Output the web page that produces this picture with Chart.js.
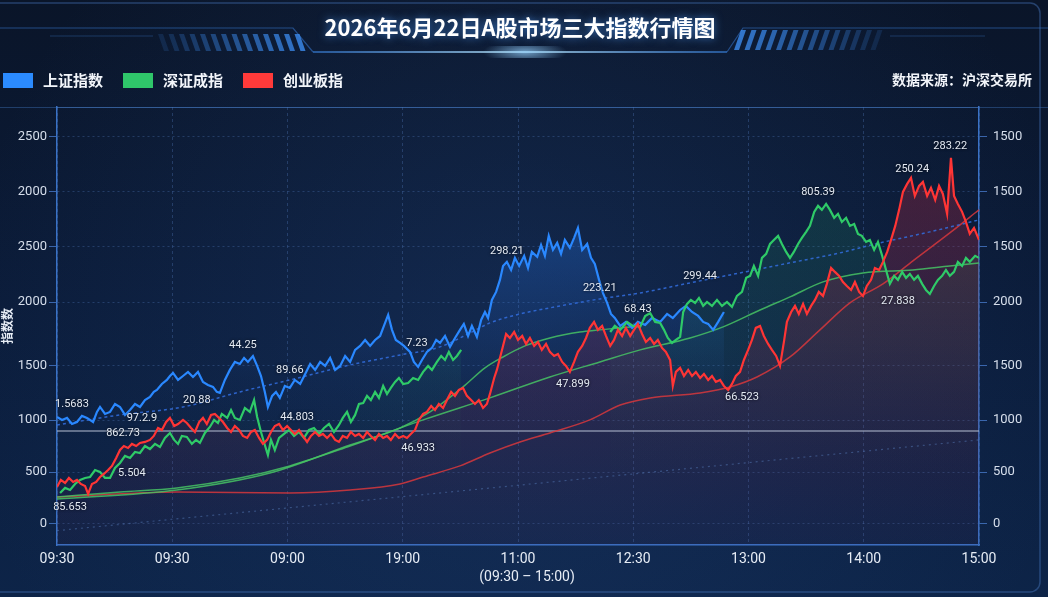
<!DOCTYPE html>
<html>
<head>
<meta charset="UTF-8">
<title>2026年6月22日A股市场三大指数行情图</title>
<script src="https://cdn.jsdelivr.net/npm/chart.js"></script>
<style>
  html, body { margin: 0; padding: 0; background: #0b1a33; }
  #wrap { position: relative; width: 1048px; height: 597px; }
</style>
</head>
<body>
<div id="wrap"><canvas id="chart" width="1048" height="597"></canvas></div>
<script>
// x = trading minutes from the open (0..240), y = index level
const timeLabels = ['09:30', '09:30', '09:00', '19:00', '11:00', '12:30', '13:00', '14:00', '15:00'];
const tickValues = [0, 470, 940, 1430, 2005, 2505, 3005, 3500];
const leftTickLabels = ['0', '500', '1000', '1500', '2000', '2500', '2000', '2500'];
const rightTickLabels = ['0', '500', '1000', '1500', '2000', '1500', '1500', '1500'];

const shanghai = [[0,968],[1.3,941],[2.6,959],[3.9,904],[5.2,922],[6.5,977],[7.8,959],[9.4,922],[10.4,1013],[11.2,1058],[12.5,995],[13.8,1013],[15.1,1085],[16.4,1058],[17.7,986],[19,1031],[20.3,1085],[21.6,1058],[22.9,1121],[24.2,1149],[25.2,1194],[26,1212],[27.3,1266],[28.6,1302],[29.4,1338],[30.2,1366],[31.5,1302],[32.8,1338],[34.1,1375],[35.4,1329],[36.7,1375],[38,1284],[39.3,1257],[40.6,1239],[41.6,1194],[42.4,1185],[43.7,1302],[45,1393],[46.3,1465],[47.6,1447],[48.7,1501],[49.7,1465],[51,1519],[52.1,1429],[53.1,1338],[54.1,1194],[54.9,1058],[56,1158],[57,1194],[58,1140],[59.3,1248],[60.6,1230],[61.9,1302],[63.3,1266],[64.6,1357],[65.9,1447],[67.2,1393],[68.5,1465],[69.8,1429],[71.1,1501],[72.4,1393],[73.7,1429],[75,1519],[76.3,1465],[77.6,1574],[78.9,1610],[80.2,1664],[81.5,1610],[82.8,1664],[84.1,1700],[85.1,1791],[86.2,1890],[87.2,1755],[88.2,1664],[89.3,1637],[90.3,1610],[91.9,1556],[92.9,1465],[94,1420],[95,1483],[96.3,1556],[97.6,1592],[98.7,1664],[99.7,1637],[101,1700],[102.3,1601],[103.6,1682],[104.9,1755],[105.9,1809],[107,1700],[108,1791],[109.3,1691],[110.4,1845],[111.4,1917],[112.2,1863],[113.2,2026],[114.3,2098],[115.3,2207],[116.1,2333],[117.1,2370],[118.2,2297],[119.2,2406],[120.3,2333],[121.6,2424],[122.6,2315],[123.6,2460],[125,2415],[126,2523],[127,2424],[128,2605],[129.1,2478],[130.2,2541],[131.2,2442],[132.2,2568],[133.5,2496],[134.6,2587],[135.6,2677],[136.7,2478],[138,2532],[139,2406],[140,2351],[141.1,2207],[142.1,2089],[143.2,1999],[144.2,1899],[145.2,1863],[146.6,1791],[148.1,1827],[149.7,1773],[151.2,1827],[153.1,1800],[154.9,1863],[157,1827],[158.8,1899],[160.3,1863],[162.2,1935],[163.7,1972],[165.3,1917],[166.9,1881],[168.2,1827],[169.5,1809],[170.8,1755],[172.1,1827],[173.6,1917]];

const shenzhen = [[0.8,280],[2.1,326],[3.4,307],[4.7,362],[6,398],[7.3,416],[8.6,425],[9.9,488],[11.2,470],[12.5,416],[13.8,416],[15.1,506],[16.4,552],[17.7,615],[19,597],[20.3,651],[21.6,642],[22.9,705],[24.2,678],[25.5,724],[26.8,696],[28.1,778],[29.4,823],[30.5,760],[31.5,724],[32.5,796],[33.8,787],[35.1,724],[36.2,760],[37.2,733],[38.5,823],[39.8,877],[40.9,941],[41.9,913],[42.9,995],[44.3,959],[45.3,1031],[46.3,959],[47.6,941],[48.9,1049],[50.2,1013],[51.3,1121],[52.1,968],[53.1,832],[54.1,714],[54.9,624],[55.7,760],[56.7,669],[57.8,778],[59.1,814],[60.4,850],[61.7,796],[63,832],[64.3,778],[65.6,850],[66.9,868],[68.2,814],[69.5,868],[70.8,904],[72.1,832],[73.4,895],[74.4,959],[75.5,1013],[76.5,922],[77.6,986],[78.6,1085],[79.7,1094],[80.7,1158],[81.7,1121],[82.8,1194],[83.8,1140],[84.9,1248],[85.9,1176],[86.9,1230],[88,1284],[89,1320],[90.1,1266],[91.4,1275],[92.7,1320],[94,1302],[95.3,1375],[96.6,1429],[97.6,1393],[98.9,1465],[100,1519],[101,1483],[102,1556],[103.1,1483],[104.1,1519],[105.2,1574],[124,null],[144,1736],[145.2,1791],[146.6,1755],[148.4,1827],[149.9,1791],[151.8,1782],[153.1,1881],[154.4,1908],[155.7,1827],[157,1818],[158,1755],[159,1682],[160.1,1637],[161.1,1664],[162.2,1691],[163,1917],[164,1990],[165,2026],[166.1,1999],[167.1,2044],[168.2,1972],[169.2,2008],[170.5,1972],[171.8,2026],[173.1,1972],[174.4,2008],[175.7,1963],[177,2062],[178.3,2098],[179.4,2225],[180.4,2243],[181.4,2333],[182.5,2243],[183.5,2406],[184.6,2442],[185.6,2532],[186.6,2568],[187.7,2605],[188.7,2532],[189.8,2460],[190.8,2406],[191.8,2460],[192.9,2532],[193.9,2587],[195,2641],[196,2695],[197.1,2822],[198.1,2876],[199.1,2840],[200.2,2894],[201.2,2840],[202.3,2768],[203.3,2804],[204.3,2731],[205.4,2768],[206.4,2695],[207.5,2713],[208.5,2623],[209.5,2605],[210.6,2550],[211.6,2568],[212.7,2478],[213.7,2550],[214.8,2424],[215.8,2297],[216.8,2171],[217.9,2243],[218.9,2207],[220,2279],[221,2225],[222,2261],[223.1,2207],[224.1,2243],[225.2,2171],[226.2,2116],[227.2,2080],[228.3,2152],[229.3,2207],[230.4,2243],[231.4,2297],[232.4,2243],[233.5,2279],[234.5,2370],[235.6,2333],[236.6,2406],[237.6,2370],[239,2424],[240,2406]];

const chinext = [[0,335],[1,398],[2.1,371],[3.1,416],[4.2,380],[5.2,398],[6.2,362],[7.3,344],[8.1,271],[9.1,362],[10.2,380],[11.2,425],[12.2,452],[13.3,488],[14.3,525],[15.4,597],[16.4,669],[17.4,705],[18.5,687],[19.5,724],[20.6,705],[21.6,733],[22.9,742],[24.2,760],[25.2,796],[26.3,868],[27.3,850],[28.4,922],[29.4,959],[30.5,886],[31.5,904],[32.8,941],[33.8,913],[34.9,868],[35.9,832],[37,922],[38,959],[39,904],[40.1,986],[41.1,995],[42.2,959],[43.2,922],[44.3,868],[45.3,832],[46.3,886],[47.4,850],[48.4,796],[49.5,778],[50.5,832],[51.5,850],[52.6,778],[53.6,724],[54.7,760],[55.7,832],[56.7,886],[57.8,904],[58.8,850],[59.9,886],[60.9,850],[61.9,814],[63,850],[64,796],[65.1,742],[66.1,796],[67.2,832],[68.2,796],[69.2,814],[70.3,778],[71.3,814],[72.4,760],[73.4,742],[74.4,796],[75.5,778],[76.5,832],[77.6,796],[78.6,814],[79.7,778],[80.7,832],[81.7,796],[82.8,760],[83.8,814],[84.9,778],[85.9,796],[86.9,760],[88,814],[89,778],[90.1,796],[91.1,778],[92.1,814],[93.2,850],[94.2,941],[95.3,995],[96.3,1013],[97.4,1067],[98.4,1031],[99.4,1085],[100.5,1049],[101.5,1121],[102.6,1194],[103.6,1158],[104.6,1212],[105.7,1230],[106.7,1158],[107.8,1121],[108.8,1085],[109.8,1121],[110.9,1049],[111.9,1085],[112.7,1176],[113.8,1320],[114.5,1393],[115.3,1501],[116.1,1610],[116.9,1718],[117.9,1682],[119,1736],[120,1664],[121.1,1700],[122.1,1628],[123.1,1682],[124.2,1610],[125.2,1646],[126.2,1574],[127.3,1628],[128.3,1556],[129.4,1519],[130.4,1537],[131.5,1465],[132.5,1429],[133.5,1375],[134.6,1465],[135.6,1556],[136.7,1610],[137.7,1682],[138.7,1773],[139.8,1827],[140.8,1755],[141.9,1791],[142.9,1700],[144,1610],[145,1664],[146,1755],[147.1,1700],[148.1,1773],[149.2,1700],[150.2,1755],[151.2,1809],[152.3,1718],[153.3,1646],[154.4,1682],[155.4,1628],[156.4,1664],[157.5,1592],[158.5,1556],[159.6,1483],[160.3,1248],[161.1,1375],[162.2,1411],[163.2,1338],[164.3,1393],[165.3,1338],[166.3,1375],[167.4,1320],[168.4,1357],[169.5,1302],[170.5,1338],[171.5,1284],[172.6,1302],[173.6,1248],[174.7,1212],[175.7,1266],[176.7,1338],[177.8,1375],[178.8,1483],[179.9,1574],[180.9,1664],[181.9,1773],[183,1791],[184,1700],[185.1,1628],[186.1,1574],[187.2,1519],[188.2,1429],[189.3,1664],[190,1827],[191.1,1917],[192.1,1972],[193.1,1899],[194.2,1990],[195.2,1899],[196.3,1972],[197.3,2026],[198.3,2098],[199.4,2062],[200.4,2171],[201.5,2315],[202.5,2279],[203.6,2243],[204.6,2188],[205.6,2152],[206.7,2116],[207.7,2188],[208.8,2098],[209.8,2062],[210.8,2152],[211.9,2207],[212.9,2315],[214,2297],[215,2370],[216.1,2460],[217.1,2568],[218.2,2695],[219.2,2840],[220.2,3002],[221.3,3075],[222.3,3129],[223.3,2966],[224.4,3057],[225.4,3093],[226.5,2966],[227.5,3039],[228.6,2930],[229.6,3057],[230.6,2984],[231.7,2804],[232.7,3310],[233.5,2966],[234.5,2894],[235.6,2822],[236.6,2731],[237.6,2623],[238.7,2677],[240,2568]];

// smoothed trend lines
const shanghaiTrend = [[0,895],[16.4,986],[32.8,1058],[47.6,1194],[60.6,1302],[76.3,1438],[89.3,1528],[99.7,1601],[107.5,1727],[112.7,1818],[120.5,1899],[128.3,1954],[141.3,2035],[151.8,2089],[164.8,2180],[177.8,2270],[190.8,2361],[203.8,2451],[214.2,2541],[227.2,2641],[240,2749]];
const shenzhenTrend = [[0,244],[16.4,289],[31.2,326],[47.6,416],[60.6,525],[76.3,705],[95.3,941],[112.7,1140],[128.3,1329],[141.3,1465],[151.8,1574],[164.8,1682],[173.4,1782],[183,1935],[190.8,2053],[199.4,2189],[209.8,2270],[222.8,2297],[232.4,2333],[240,2360]];
const shenzhenFast = [[0,226],[31.2,307],[55.4,461],[76.3,714],[89.3,868],[97.1,1013],[105.7,1239],[111.4,1411],[116.1,1510],[121.8,1610],[128.3,1682],[136.1,1736],[141.3,1755],[149.2,1782]];
const chinextTrend = [[0,244],[31.2,289],[60.6,280],[76.3,307],[89.3,362],[95.3,425],[104.9,525],[112.7,642],[120.5,742],[128.3,823],[138.7,941],[146.6,1076],[154.4,1140],[167.4,1185],[175.2,1239],[182.2,1329],[190.8,1510],[198.6,1755],[206.4,1999],[215,2171],[222.8,2379],[232.4,2632],[240,2840]];
const guideLine = [[0,-60],[240,760]];
const baseLevel = 841;

const noteText = ['1.5683','97.2.9','862.73','5.504','85.653','20.88','44.25','89.66','44.803','7.23','46.933','298.21','223.21','68.43','47.899','299.44','66.523','805.39','250.24','283.22','27.838'];
const notePos = [[3.9,1085],[22.1,959],[17.2,823],[19.5,461],[3.4,154],[36.4,1121],[48.4,1619],[60.6,1393],[62.5,968],[93.7,1637],[94,687],[117.1,2469],[141.3,2134],[151.2,1945],[134.3,1266],[167.4,2243],[178.3,1149],[198.1,3003],[222.6,3211],[232.5,3419],[218.9,2017]];

const FONT = 'Roboto, "Noto Sans CJK SC", sans-serif';
const CJK = '"Noto Sans CJK SC", "Noto Sans", sans-serif';

function pts(arr) { return arr.map(p => ({ x: p[0], y: p[1] })); }

function vGrad(stops) {
    return (ctx) => {
        const chart = ctx.chart;
        const area = chart.chartArea;
        if (!area) return 'transparent';
        const g = chart.ctx.createLinearGradient(0, area.top, 0, area.bottom);
        stops.forEach(s => g.addColorStop(s[0], s[1]));
        return g;
    };
}

const backdrop = {
    id: 'backdrop',
    beforeDraw(chart) {
        const c = chart.ctx, W = chart.width, H = chart.height;
        c.save();
        let g = c.createLinearGradient(0, 0, 0, H);
        g.addColorStop(0, '#0a1529');
        g.addColorStop(0.5, '#0b1c3a');
        g.addColorStop(1, '#0d2448');
        c.fillStyle = g;
        c.fillRect(0, 0, W, H);
        let r = c.createRadialGradient(520, 340, 20, 520, 340, 560);
        r.addColorStop(0, 'rgba(45,85,150,0.22)');
        r.addColorStop(1, 'rgba(45,85,150,0)');
        c.fillStyle = r;
        c.fillRect(0, 0, W, H);

        // outer frame
        c.strokeStyle = 'rgba(70,120,190,0.45)';
        c.lineWidth = 1.5;
        c.beginPath();
        c.roundRect(-10, 3, 1050, 589, 10);
        c.stroke();

        // separator above plot
        c.strokeStyle = 'rgba(60,110,180,0.45)';
        c.lineWidth = 1;
        c.beginPath(); c.moveTo(0, 107.5); c.lineTo(W, 107.5); c.stroke();

        // header bracket
        c.strokeStyle = 'rgba(55,120,210,0.55)';
        c.lineWidth = 1.2;
        c.beginPath();
        c.moveTo(0, 28); c.lineTo(293, 28); c.lineTo(313, 52);
        c.moveTo(727, 52); c.lineTo(743, 28); c.lineTo(1048, 28);
        c.stroke();
        let lg = c.createLinearGradient(313, 0, 727, 0);
        lg.addColorStop(0, 'rgba(60,140,240,0.7)');
        lg.addColorStop(0.5, 'rgba(190,235,255,1)');
        lg.addColorStop(1, 'rgba(60,140,240,0.7)');
        c.strokeStyle = lg;
        c.lineWidth = 1.5;
        c.beginPath(); c.moveTo(313, 52); c.lineTo(727, 52); c.stroke();
        c.save();
        c.translate(525, 52); c.scale(3.5, 1);
        let rg = c.createRadialGradient(0, 0, 0, 0, 0, 12);
        rg.addColorStop(0, 'rgba(150,210,255,0.7)');
        rg.addColorStop(1, 'rgba(150,210,255,0)');
        c.fillStyle = rg;
        c.fillRect(-12, -6, 24, 12);
        c.restore();

        c.strokeStyle = 'rgba(60,120,200,0.35)';
        c.lineWidth = 1;
        c.beginPath(); c.moveTo(50, 36); c.lineTo(153, 36); c.moveTo(890, 36); c.lineTo(985, 36); c.stroke();

        for (let i = 0; i < 14; i++) {
            const x = 158 + i * 10.5;
            c.fillStyle = 'rgba(60,140,240,' + (0.15 + 0.65 * i / 13) + ')';
            c.beginPath();
            c.moveTo(x, 34); c.lineTo(x + 5, 34); c.lineTo(x + 11, 51); c.lineTo(x + 6, 51);
            c.closePath(); c.fill();
        }
        for (let i = 0; i < 14; i++) {
            const x = 734 + i * 10.5;
            c.fillStyle = 'rgba(60,140,240,' + (0.8 - 0.65 * i / 13) + ')';
            c.beginPath();
            c.moveTo(x + 7, 30); c.lineTo(x + 12, 30); c.lineTo(x + 5, 50); c.lineTo(x, 50);
            c.closePath(); c.fill();
        }
        c.restore();
    },
    afterDraw(chart) {
        const c = chart.ctx;
        c.save();
        // title
        c.font = 'bold 22px ' + CJK;
        c.textAlign = 'center';
        c.textBaseline = 'middle';
        c.shadowColor = 'rgba(80,160,255,0.7)';
        c.shadowBlur = 8;
        c.fillStyle = '#ffffff';
        c.fillText('2026年6月22日A股市场三大指数行情图', 520, 28);
        c.shadowBlur = 0;

        // legend
        const items = [['上证指数', '#2b8bff', 3], ['深证成指', '#2fc66a', 123], ['创业板指', '#ff3a3a', 243]];
        c.font = 'bold 15px ' + CJK;
        c.textAlign = 'left';
        items.forEach(it => {
            c.fillStyle = it[1];
            c.fillRect(it[2], 73, 30, 15);
            c.fillStyle = '#f2f5fa';
            c.fillText(it[0], it[2] + 40, 80);
        });
        c.font = 'bold 14px ' + CJK;
        c.textAlign = 'right';
        c.fillText('数据来源：沪深交易所', 1032, 80);

        // x axis caption
        c.font = '14px ' + FONT;
        c.textAlign = 'center';
        c.fillStyle = '#e6ecf5';
        c.fillText('(09:30 – 15:00)', 527, 577);

        // chart area top edge
        const a = chart.chartArea;
        c.strokeStyle = 'rgba(70,120,190,0.5)';
        c.lineWidth = 1;
        c.beginPath(); c.moveTo(a.left, a.top + 0.5); c.lineTo(a.right, a.top + 0.5); c.stroke();
        c.restore();
    },
    afterDatasetsDraw(chart) {
        const c = chart.ctx, xs = chart.scales.x, ys = chart.scales.y;
        c.save();
        c.font = '11px ' + FONT;
        c.textAlign = 'center';
        c.textBaseline = 'middle';
        c.shadowColor = 'rgba(0,0,0,0.8)';
        c.shadowBlur = 3;
        c.fillStyle = '#e3e9f2';
        noteText.forEach((t, i) => {
            c.fillText(t, xs.getPixelForValue(notePos[i][0]), ys.getPixelForValue(notePos[i][1]));
        });
        c.restore();
    }
};

const ctx = document.getElementById('chart').getContext('2d');
const chart = new Chart(ctx, {
    type: 'line',
    data: {
        datasets: [
            {
                label: '创业板指', data: pts(chinext),
                borderColor: '#ff3535', borderWidth: 2.2, pointRadius: 0, tension: 0,
                fill: 'start',
                backgroundColor: vGrad([[0, 'rgba(200,40,60,0.34)'], [0.35, 'rgba(170,40,70,0.28)'], [0.7, 'rgba(130,35,75,0.18)'], [1, 'rgba(90,30,75,0.08)']])
            },
            {
                label: '深证成指', data: pts(shenzhen),
                borderColor: '#2fca68', borderWidth: 2.2, pointRadius: 0, tension: 0, spanGaps: false,
                fill: 'start',
                backgroundColor: vGrad([[0, 'rgba(40,200,110,0.18)'], [0.55, 'rgba(40,170,100,0.09)'], [0.85, 'rgba(30,120,90,0)'], [1, 'rgba(30,120,90,0)']])
            },
            {
                label: '上证指数', data: pts(shanghai),
                borderColor: '#2a88ff', borderWidth: 2.2, pointRadius: 0, tension: 0,
                fill: 'start',
                backgroundColor: vGrad([[0, 'rgba(40,130,255,0.0)'], [0.28, 'rgba(40,130,255,0.28)'], [0.62, 'rgba(40,110,230,0.03)'], [0.72, 'rgba(40,110,230,0)'], [1, 'rgba(40,110,230,0)']])
            },
            {
                label: 'sh-trend', data: pts(shanghaiTrend),
                borderColor: 'rgba(50,110,225,0.85)', borderWidth: 1.5, borderDash: [3, 3],
                pointRadius: 0, cubicInterpolationMode: 'monotone', fill: false
            },
            {
                label: 'sz-trend', data: pts(shenzhenTrend),
                borderColor: 'rgba(70,195,100,0.85)', borderWidth: 1.5,
                pointRadius: 0, cubicInterpolationMode: 'monotone', fill: false
            },
            {
                label: 'sz-fast', data: pts(shenzhenFast),
                borderColor: 'rgba(70,195,100,0.85)', borderWidth: 1.5,
                pointRadius: 0, cubicInterpolationMode: 'monotone', fill: false
            },
            {
                label: 'cy-trend', data: pts(chinextTrend),
                borderColor: 'rgba(215,55,60,0.85)', borderWidth: 1.5,
                pointRadius: 0, cubicInterpolationMode: 'monotone', fill: false
            },
            {
                label: 'guide', data: pts(guideLine),
                borderColor: 'rgba(90,130,195,0.45)', borderWidth: 1.2, borderDash: [2, 4],
                pointRadius: 0, fill: false
            },
            {
                label: 'base', data: [{ x: 0, y: baseLevel }, { x: 240, y: baseLevel }],
                borderColor: 'rgba(175,185,205,0.7)', borderWidth: 1.5,
                pointRadius: 0, fill: false
            }
        ]
    },
    options: {
        responsive: false,
        animation: false,
        layout: { padding: { top: 107, left: 0, right: 0, bottom: 0 } },
        plugins: {
            legend: { display: false },
            tooltip: { enabled: false },
            filler: { drawTime: 'beforeDatasetsDraw' }
        },
        scales: {
            x: {
                type: 'linear', min: 0, max: 240,
                afterFit(scale) { scale.height = 52; },
                ticks: {
                    stepSize: 30, autoSkip: false, maxRotation: 0, padding: 6,
                    color: '#e6ecf5', font: { size: 14, family: FONT },
                    callback: (v, i) => timeLabels[i]
                },
                grid: { color: 'rgba(80,120,185,0.35)', drawTicks: false },
                border: { color: '#3a72c6', width: 1.5, dash: [3, 3] }
            },
            y: {
                min: -190, max: 3770,
                afterBuildTicks(scale) { scale.ticks = tickValues.map(v => ({ value: v })); },
                afterFit(scale) { scale.width = 57; },
                ticks: {
                    color: '#d6deeb', font: { size: 13, family: FONT }, padding: 2,
                    callback: (v, i) => leftTickLabels[i]
                },
                grid: { color: 'rgba(80,120,185,0.35)', tickLength: 8, tickColor: 'rgba(70,120,200,0.8)' },
                border: { color: '#3a72c6', width: 1.5, dash: [2, 3] },
                title: {
                    display: true, text: '指数数', color: '#e6ecf5', padding: 0,
                    font: { size: 12, weight: 'bold', family: CJK }
                }
            },
            y2: {
                position: 'right', min: -190, max: 3770,
                afterBuildTicks(scale) { scale.ticks = tickValues.map(v => ({ value: v })); },
                afterFit(scale) { scale.width = 69; },
                ticks: {
                    color: '#d6deeb', font: { size: 13, family: FONT }, padding: 6,
                    callback: (v, i) => rightTickLabels[i]
                },
                grid: { drawOnChartArea: false, tickLength: 8, tickColor: 'rgba(70,120,200,0.8)' },
                border: { color: '#3a72c6', width: 1.5 }
            }
        }
    },
    plugins: [backdrop]
});
</script>
</body>
</html>
